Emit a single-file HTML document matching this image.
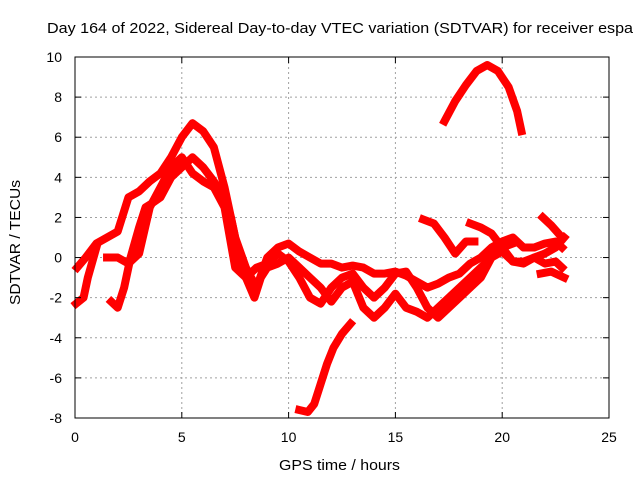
<!DOCTYPE html>
<html><head><meta charset="utf-8"><style>
body{margin:0;background:#fff;}
svg text{font-family:"Liberation Sans",sans-serif;font-size:14px;fill:#000;}
</style></head><body>
<svg id="chart" width="640" height="480">
<text x="47" y="33" textLength="586" lengthAdjust="spacingAndGlyphs" style="font-size:15px">Day 164 of 2022, Sidereal Day-to-day VTEC variation (SDTVAR) for receiver espa</text>
<text x="279" y="470" textLength="121" lengthAdjust="spacingAndGlyphs" style="font-size:15px">GPS time / hours</text>
<text transform="translate(20,305) rotate(-90)" textLength="125" lengthAdjust="spacingAndGlyphs" style="font-size:15px">SDTVAR / TECUs</text>
<g id="grid"></g><g id="series"></g><g id="axes"></g>
</svg>
<script>
const xTicks=[0,5,10,15,20,25];
const yTicks=[-8,-6,-4,-2,0,2,4,6,8,10];
const s1x=[0.1,0.5,1,1.5,2,2.5,3,3.5,4,4.5,5,5.5,6,6.5,7,7.5,8,8.5,9,9.5,10,10.5,11,11.5,12,12.5,13,13.5,14,14.5,15,15.5,16,16.5,17,17.5,18,18.5,19,19.5,20,20.5,21,21.5,22,22.5,22.8];
const s1y=[-0.5,0,0.7,1,1.3,3,3.3,3.8,4.2,5,6,6.7,6.3,5.5,3.5,1,-0.5,-1.5,0,0.5,0.7,0.3,0,-0.3,-0.3,-0.5,-0.4,-0.5,-0.8,-0.8,-0.7,-0.9,-1.2,-1.5,-1.3,-1,-0.8,-0.3,0,0.5,0.8,1,0.5,0.5,0.7,0.8,0.5];
const s2x=[0.05,0.4,0.6,1];
const s2y=[-2.3,-2,-1,0.5];
const s3x=[1.7,2,2.3,2.6,3,3.3,3.6,4,4.5,5,5.5,6,6.5,7,7.3,7.7,8,8.4,8.7,9,9.5,10,10.5,11,11.5,12,12.5,13,13.5,14,14.5,15,15.5,16,16.5,17,17.5,18,18.5,19,19.5,20,20.5];
const s3y=[-2.2,-2.5,-1.5,0,1.5,2.5,2.7,3,4,4.5,5,4.5,3.8,3,2,0,-1,-2,-1,-0.5,-0.3,0,-0.5,-1,-1.5,-2.2,-1.5,-1.2,-2.5,-3,-2.5,-1.8,-2.5,-2.7,-3,-2.5,-2,-1.5,-1,-0.5,0,0.5,0.7];
const s4x=[1.5,2,2.5,3,3.5,4,4.5,5,5.5,6,6.5,7,7.5,8,8.5,9,9.5,10,10.5,11,11.5,12,12.5,13,13.5,14,14.5,15,15.5,16,16.5,17,17.5,18,18.5,19,19.5,20,20.5,21,21.5,22,22.5,22.9];
const s4y=[0,0,-0.3,0.2,2.5,3.5,4.5,5,4.2,3.8,3.5,2.5,-0.5,-1,-0.5,-0.3,0.2,-0.2,-1,-2,-2.3,-1.5,-1,-0.8,-1.5,-2,-1.5,-0.8,-0.7,-1.5,-2.5,-3,-2.5,-2,-1.5,-1,0,0.3,-0.2,-0.3,0,0.2,0.5,1];
const s5x=[16.3,16.8,17.3,17.8,18.3,18.7];
const s5y=[1.9,1.7,1,0.2,0.8,0.8];
const s6x=[17.3,17.8,18.3,18.8,19.3,19.8,20.3,20.7,20.9];
const s6y=[6.8,7.8,8.6,9.3,9.6,9.3,8.5,7.3,6.3];
const s7x=[10.5,10.9,11.2,11.5,11.8,12.1,12.5,12.9];
const s7y=[-7.6,-7.7,-7.3,-6.3,-5.3,-4.5,-3.8,-3.3];
const s8x=[18.5,19,19.5,20,20.5,21,21.5,22,22.5,22.8];
const s8y=[1.7,1.5,1.2,0.5,-0.2,-0.2,0,-0.3,-0.2,-0.5];
const s9x=[21.9,22.3,22.8];
const s9y=[2,1.6,1.0];
const s10x=[21.8,22.3,22.9];
const s10y=[-0.8,-0.7,-1];
const X=v=>75+v*(534/25), Y=v=>57+(10-v)*(361/18);
const NS='http://www.w3.org/2000/svg';
function mk(t,a,p){const e=document.createElementNS(NS,t);for(const k in a)e.setAttribute(k,a[k]);p.appendChild(e);return e;}
const grid=document.getElementById('grid'),axes=document.getElementById('axes'),ser=document.getElementById('series');
xTicks.forEach(v=>{
 if(v>0&&v<25){const g=mk('line',{x1:X(v),x2:X(v),y1:57,y2:418,stroke:'#a0a0a0','stroke-dasharray':'2,3'},grid);
 
 }
 mk('line',{x1:X(v),x2:X(v),y1:418,y2:412,stroke:'#000'},axes);
 mk('line',{x1:X(v),x2:X(v),y1:57,y2:63,stroke:'#000'},axes);
 const t=mk('text',{x:X(v),y:442,'text-anchor':'middle'},axes);t.textContent=v;
 
 
});
yTicks.forEach(v=>{
 if(v>-8&&v<10){const g=mk('line',{x1:75,x2:609,y1:Y(v),y2:Y(v),stroke:'#a0a0a0','stroke-dasharray':'2,3'},grid);
 
 }
 mk('line',{x1:75,x2:81,y1:Y(v),y2:Y(v),stroke:'#000'},axes);
 mk('line',{x1:603,x2:609,y1:Y(v),y2:Y(v),stroke:'#000'},axes);
 const t=mk('text',{x:62,y:Y(v)+5,'text-anchor':'end'},axes);t.textContent=v;
 
 
});
const fr=mk('rect',{x:75,y:57,width:534,height:361,fill:'none',stroke:'#000'},axes);


[[s1x,s1y],[s2x,s2y],[s3x,s3y],[s4x,s4y],[s5x,s5y],[s6x,s6y],[s7x,s7y],[s8x,s8y],[s9x,s9y],[s10x,s10y]].forEach(([xs,ys],i)=>{
 const pts=xs.map((x,j)=>X(x)+','+Y(ys[j])).join(' ');
 const p=mk('polyline',{points:pts,fill:'none',stroke:'#ff0000','stroke-width':8,'stroke-linejoin':'round','stroke-linecap':'square'},ser);
 
 
});
</script>
</body></html>
